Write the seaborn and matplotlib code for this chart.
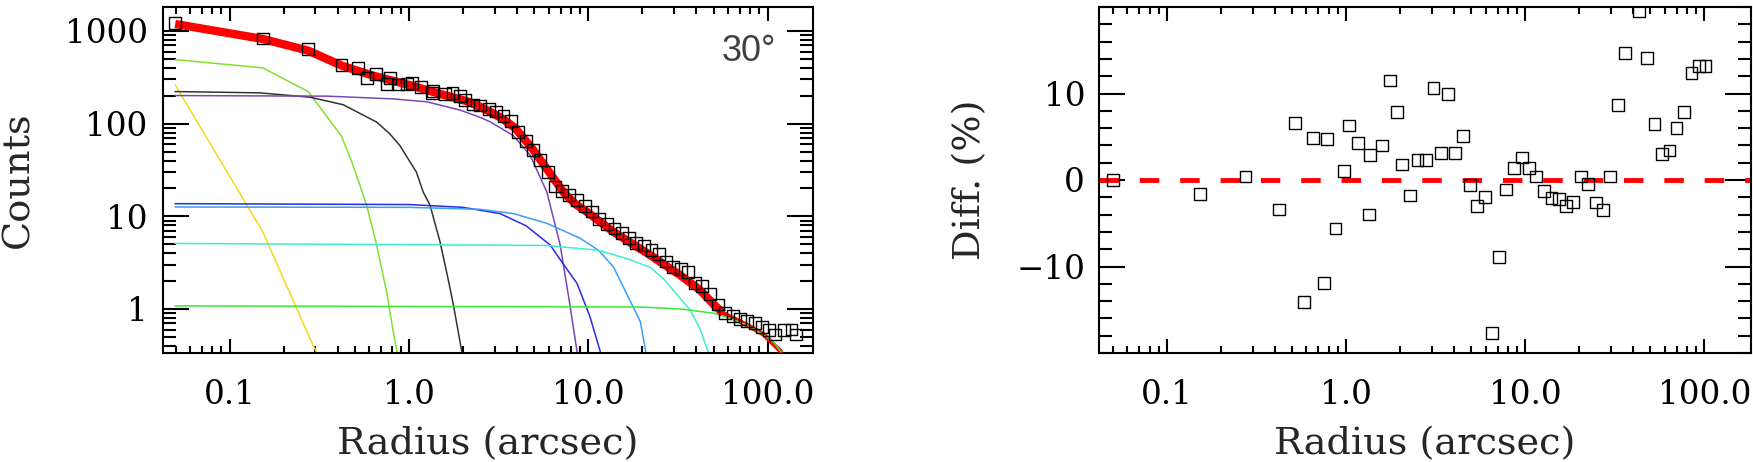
import numpy as np
import matplotlib
matplotlib.use("Agg")
import matplotlib.pyplot as plt
import matplotlib.ticker as mticker
import seaborn as sns

# 剖面数据点（左图）：半径 (arcsec) 与计数
data_radius = [0.0497, 0.153, 0.274, 0.421, 0.519, 0.581, 0.652, 0.754, 0.780, 0.871,
               0.971, 1.04, 1.17, 1.34, 1.36, 1.59, 1.75, 1.93, 2.06, 2.27,
               2.50, 2.78, 3.07, 3.37, 3.71, 4.07, 4.48, 4.90, 5.38, 5.96,
               6.50, 7.13, 7.83, 8.68, 9.55, 10.5, 11.5, 12.7, 14.0, 15.4,
               16.9, 18.5, 20.5, 22.5, 24.7, 27.1, 29.8, 32.9, 36.1, 39.5,
               43.1, 47.7, 52.7, 57.9, 63.8, 69.8, 76.7, 84.7, 93.1, 101.4,
               110, 123, 136, 144]
data_counts = [1220, 830, 640, 430, 395, 310, 345, 266, 311, 265,
               269, 272, 250, 213, 227, 210, 214, 197, 180, 161,
               157, 143, 135, 120, 106, 82, 65, 52, 40.5, 30,
               21, 18.8, 17, 15, 13, 11.3, 9.3, 8.3, 7.4, 6.6,
               5.8, 5.2, 4.85, 4.3, 3.9, 3.25, 2.85, 2.72, 2.5, 1.9,
               1.78, 1.45, 1.12, 0.9, 0.84, 0.78, 0.74, 0.70, 0.64, 0.59,
               0.53, 0.59, 0.60, 0.53]

# 模型总和（红色粗线）
model_r = [0.0497, 0.153, 0.274, 0.421, 0.63, 1.0, 1.55, 2.1, 2.49, 2.8, 3.3, 3.9,
           4.9, 5.9, 7.3, 8.5, 9.8, 13.8, 21.3, 32.7, 42, 50, 56.6]
model_y = [1190, 820, 614, 423, 330, 262, 205, 175, 152, 136, 114, 90,
           53, 32, 18, 13.5, 11.2, 6.8, 4.0, 2.3, 1.6, 1.12, 0.9]
tail_r = [50, 56.6, 77, 95, 118]
tail_y = [1.12, 0.9, 0.67, 0.53, 0.35]

# 各分量
yellow_r = [0.0497, 0.153, 0.274, 0.421]
yellow_y = [262, 6.8, 0.53, 0.09]
chart_r = [0.0497, 0.153, 0.274, 0.421, 0.48, 0.533, 0.58, 0.654, 0.75, 0.817, 0.87]
chart_y = [491, 400, 222, 73, 38.5, 21.6, 13.2, 5.3, 1.54, 0.57, 0.30]
gray_r = [0.0496, 0.147, 0.28, 0.43, 0.66, 0.78, 0.89, 1.10, 1.2, 1.31, 1.49, 1.65, 1.77, 1.97]
gray_y = [222, 215, 193, 160, 104, 78, 58, 30, 18.3, 13.2, 5.3, 2.14, 1.1, 0.347]
purple_r = [0.0496, 0.35, 0.82, 1.26, 1.93, 2.49, 2.83, 3.83, 4.74, 5.87, 6.97, 7.9, 8.65]
purple_y = [201, 198, 185, 172, 140, 117, 105, 74, 45.5, 18.3, 4.9, 1.1, 0.347]
blue_r = [0.0496, 1.0, 2.0, 3.22, 4.5, 6.13, 7.3, 8.65, 10.2, 11.66]
blue_y = [13.7, 13.4, 12.5, 10.7, 7.9, 4.9, 3.0, 1.89, 0.83, 0.347]
lblue_r = [0.0496, 1.0, 2.49, 3.83, 5.87, 9.0, 11.4, 13.8, 17.2, 19.5, 20.9]
lblue_y = [12.6, 12.5, 11.9, 10.7, 8.4, 5.8, 4.3, 2.85, 1.2, 0.73, 0.347]
cyan_r = [0.0496, 5.87, 11.4, 17.2, 22.2, 26.4, 31, 37, 42.1, 46.5]
cyan_y = [5.1, 4.85, 4.3, 3.4, 2.8, 2.1, 1.45, 0.975, 0.6, 0.347]
green_r = [0.0496, 20, 32.7, 50.1, 62.1, 77, 95.4, 109, 118.5]
green_y = [1.08, 1.05, 1.0, 0.90, 0.79, 0.67, 0.525, 0.43, 0.347]

components = [
    (yellow_r, yellow_y, '#F8D81C'),
    (chart_r, chart_y, '#80E030'),
    (gray_r, gray_y, '#333333'),
    (purple_r, purple_y, '#7B44B8'),
    (blue_r, blue_y, '#2A2AE8'),
    (lblue_r, lblue_y, '#3AA0F8'),
    (cyan_r, cyan_y, '#3AF0D0'),
]

# 残差（右图）
diff_radius = [0.0497, 0.153, 0.274, 0.421, 0.519, 0.581, 0.652, 0.754, 0.780, 0.871,
               0.971, 1.04, 1.17, 1.34, 1.36, 1.59, 1.75, 1.93, 2.06, 2.27,
               2.50, 2.78, 3.07, 3.37, 3.71, 4.07, 4.48, 4.90, 5.38, 5.96,
               6.50, 7.13, 7.83, 8.68, 9.55, 10.5, 11.5, 12.7, 14.0, 15.4,
               16.9, 18.5, 20.5, 22.5, 24.7, 27.1, 29.8, 32.9, 36.1, 43.1,
               47.7, 52.7, 57.9, 63.8, 69.8, 76.7, 84.7, 93.1, 101.4]
diff_pct = [0, -1.6, 0.4, -3.4, 6.6, -14.1, 4.85, -11.9, 4.7, -5.6,
            1.0, 6.3, 4.3, -4.0, 2.9, 4.0, 11.5, 7.9, 1.8, -1.8,
            2.3, 2.3, 10.6, 3.1, 9.9, 3.1, 5.1, -0.6, -3.0, -2.0,
            -17.7, -8.9, -1.1, 1.4, 2.6, 1.4, 0.4, -1.3, -2.1, -2.2,
            -3.0, -2.5, 0.4, -0.5, -2.6, -3.5, 0.4, 8.7, 14.7, 19.5,
            14.1, 6.5, 3.0, 3.4, 6.0, 7.9, 12.4, 13.2, 13.2]

sns.set_style("ticks")
plt.rcParams['font.family'] = ['DejaVu Serif']

W, H = 1753, 462
fig = plt.figure(figsize=(W / 100, H / 100), dpi=100)
ax1 = fig.add_axes([163 / W, 1 - 353 / H, 650 / W, 346 / H])
ax2 = fig.add_axes([1099 / W, 1 - 353 / H, 652 / W, 346 / H])


def style_axes(ax, ypad):
    for s in ax.spines.values():
        s.set_linewidth(1.5)
        s.set_color('black')
    ax.tick_params(which='both', direction='in', top=True, right=True,
                   width=1.5, colors='black', labelsize=23.5)
    ax.tick_params(axis='x', which='major', length=10, pad=19)
    ax.tick_params(axis='x', which='minor', length=5)
    ax.tick_params(axis='y', which='major', length=19, pad=ypad)
    ax.tick_params(axis='y', which='minor', length=9.5)


def log_x(ax, lo, hi):
    ax.set_xscale('log')
    ax.set_xlim(lo, hi)
    ax.xaxis.set_major_locator(mticker.FixedLocator([0.1, 1, 10, 100]))
    ax.xaxis.set_major_formatter(mticker.FixedFormatter(['0.1', '1.0', '10.0', '100.0']))
    ax.xaxis.set_minor_locator(mticker.LogLocator(base=10, subs=np.arange(2, 10), numticks=30))
    ax.xaxis.set_minor_formatter(mticker.NullFormatter())


# 左图：计数剖面
log_x(ax1, 0.0425, 179)
ax1.set_yscale('log')
ax1.set_ylim(0.335, 1815)
ax1.yaxis.set_major_locator(mticker.FixedLocator([1, 10, 100, 1000]))
ax1.yaxis.set_major_formatter(mticker.FixedFormatter(['1', '10', '100', '1000']))
ax1.yaxis.set_minor_locator(mticker.LogLocator(base=10, subs=np.arange(2, 10), numticks=30))
ax1.yaxis.set_minor_formatter(mticker.NullFormatter())

for r, y, c in components:
    sns.lineplot(x=r, y=y, ax=ax1, color=c, lw=1.1, estimator=None, sort=False, zorder=2)
sns.lineplot(x=tail_r, y=tail_y, ax=ax1, color='#FF0000', lw=3.2, estimator=None, sort=False, zorder=3)
sns.lineplot(x=green_r, y=green_y, ax=ax1, color='#3CE83C', lw=1.1, estimator=None, sort=False, zorder=4)
sns.lineplot(x=model_r, y=model_y, ax=ax1, color='#FF0000', lw=6, estimator=None, sort=False,
             zorder=5, solid_capstyle='butt')
sns.scatterplot(x=data_radius, y=data_counts, ax=ax1, marker='s', s=72,
                facecolor='none', edgecolor='black', linewidth=1.0, zorder=6)
ax1.text(0.9015, 0.87, '30°', transform=ax1.transAxes, ha='center', va='center',
         fontsize=26, family='Liberation Sans', color='#404040')
ax1.set_xlabel('Radius (arcsec)', fontsize=27.5)
ax1.set_ylabel('Counts', fontsize=27.5)
ax1.xaxis.set_label_coords(0.5, -0.21)
ax1.yaxis.set_label_coords(-0.195, 0.5)
style_axes(ax1, 11)

# 右图：残差
log_x(ax2, 0.0417, 182)
ax2.set_ylim(-20, 20)
ax2.yaxis.set_major_locator(mticker.FixedLocator([-10, 0, 10]))
ax2.yaxis.set_major_formatter(mticker.FixedFormatter(['\u221210', '0', '10']))
ax2.yaxis.set_minor_locator(mticker.MultipleLocator(2))
ax2.axhline(0, color='#FF0000', lw=3.5, dashes=(4, 4.3), zorder=2)
sns.scatterplot(x=diff_radius, y=diff_pct, ax=ax2, marker='s', s=72,
                facecolor='none', edgecolor='black', linewidth=1.0, zorder=3)
ax2.set_xlabel('Radius (arcsec)', fontsize=27.5)
ax2.set_ylabel('Diff. (%)', fontsize=27.5)
ax2.xaxis.set_label_coords(0.5, -0.21)
ax2.yaxis.set_label_coords(-0.17, 0.5)
style_axes(ax2, 10)

fig.savefig('out.png', dpi=100)
